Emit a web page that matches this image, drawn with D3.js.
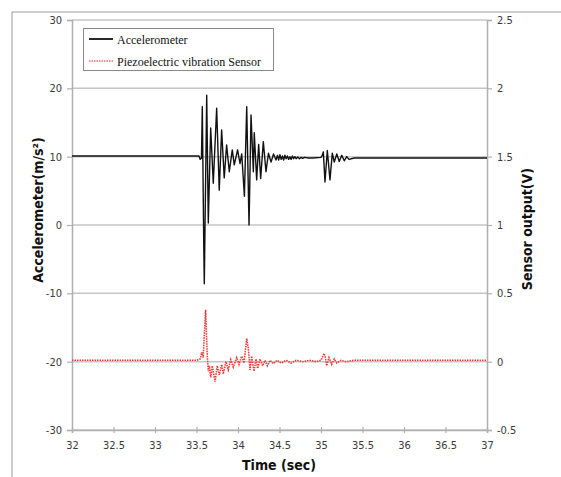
<!DOCTYPE html>
<html>
<head>
<meta charset="utf-8">
<script src="https://cdnjs.cloudflare.com/ajax/libs/d3/7.8.5/d3.min.js"></script>
<style>
  body { margin: 0; background: #fff; }
  svg text { font-family: "Liberation Sans Narrow", "DejaVu Sans Condensed", "DejaVu Sans", sans-serif; font-stretch: condensed; }
</style>
</head>
<body>
<div class="chart-container"></div>
<script>
// x ticks and axis ticks
let xTicks = [32, 32.5, 33, 33.5, 34, 34.5, 35, 35.5, 36, 36.5, 37]
let yLeftTicks = [-30, -20, -10, 0, 10, 20, 30]
let yRightTicks = [-0.5, 0, 0.5, 1, 1.5, 2, 2.5]

// accelerometer (m/s2)
let accelTime = [32.0, 33.50, 33.53, 33.545, 33.56, 33.57, 33.588, 33.594, 33.623, 33.642,
  33.671, 33.702, 33.743, 33.774, 33.803, 33.834, 33.863, 33.895, 33.931, 33.955,
  33.995, 34.024, 34.045, 34.077, 34.105, 34.133, 34.157, 34.185, 34.196, 34.225,
  34.249, 34.273, 34.305, 34.337, 34.367, 34.398, 34.428, 34.458, 34.475, 34.49,
  34.505, 34.52, 34.535, 34.55, 34.565, 34.58, 34.595, 34.61, 34.625, 34.64,
  34.655, 34.67, 34.685, 34.70, 34.72, 34.74, 34.76, 34.78, 34.80, 34.85,
  34.90, 35.00, 35.015, 35.028, 35.048, 35.076, 35.108, 35.136, 35.16, 35.19,
  35.22, 35.25, 35.28, 35.31, 35.337, 35.40, 37.0]
let accelValue = [10.1, 10.1, 10.1, 9.6, 9.8, 17.3, -3.5, -8.6, 19.0, 0.3,
  14.2, 6.1, 17.1, 5.1, 13.9, 6.9, 11.7, 7.8, 11.0, 8.8,
  11.0, 9.0, 10.4, 4.2, 17.3, 0.0, 16.1, 7.8, 13.5, 6.6,
  11.8, 6.8, 12.2, 7.8, 10.5, 9.2, 10.4, 9.5, 10.2, 9.5,
  10.3, 9.6, 10.1, 9.5, 10.2, 9.7, 10.1, 9.6, 10.0, 9.6,
  10.1, 9.7, 10.0, 9.7, 9.95, 9.7, 9.9, 9.75, 9.9, 9.8,
  9.8, 9.9, 10.2, 10.7, 6.3, 10.9, 6.6, 10.5, 9.2, 10.4,
  9.3, 10.2, 9.4, 10.0, 9.6, 9.8, 9.8]

// piezoelectric sensor output (V)
let sensorTime = [32.0, 33.50, 33.545, 33.563, 33.58, 33.61, 33.63, 33.642, 33.655, 33.671,
  33.69, 33.723, 33.75, 33.775, 33.804, 33.823, 33.855, 33.883, 33.912, 33.943,
  33.984, 34.012, 34.044, 34.072, 34.105, 34.124, 34.145, 34.165, 34.193, 34.217,
  34.237, 34.265, 34.297, 34.325, 34.353, 34.386, 34.425, 34.47, 34.52, 34.58,
  34.64, 34.70, 34.78, 34.86, 34.94, 35.00, 35.036, 35.05, 35.068, 35.096,
  35.129, 35.16, 35.19, 35.24, 35.30, 35.40, 37.0]
let sensorValue = [0.01, 0.01, 0.02, 0.07, 0.03, 0.38, 0.04, -0.07, -0.03, -0.115,
  -0.03, -0.146, -0.03, -0.097, -0.02, -0.09, 0.0, -0.06, 0.015, -0.04,
  0.03, -0.02, 0.04, -0.01, 0.17, 0.10, -0.06, 0.04, -0.07, 0.02,
  -0.05, 0.02, -0.03, 0.01, -0.03, 0.01, -0.015, 0.01, -0.01, 0.01,
  -0.01, 0.01, 0.0, 0.01, 0.0, 0.01, 0.06, 0.04, -0.03, 0.03,
  -0.02, 0.02, -0.01, 0.01, 0.0, 0.01, 0.01]

let width = 561, height = 477
let plot = { left: 72, right: 487, top: 20, bottom: 430 }

let svg = d3.select('.chart-container')
  .append('svg')
  .attr('width', width)
  .attr('height', height)

let x = d3.scaleLinear().domain([32, 37]).range([plot.left, plot.right])
let yL = d3.scaleLinear().domain([-30, 30]).range([plot.bottom, plot.top])
let yR = d3.scaleLinear().domain([-0.5, 2.5]).range([plot.bottom, plot.top])

// outer frame (top and left only visible)
svg.append('path')
  .attr('d', `M12,${height} L12,12 L${width},12`)
  .attr('fill', 'none')
  .attr('stroke', '#9a9a9a')
  .attr('stroke-width', 1)

// gridlines
svg.append('g')
  .selectAll('line')
  .data(yLeftTicks)
  .enter()
  .append('line')
  .attr('x1', plot.left)
  .attr('x2', plot.right)
  .attr('y1', d => yL(d))
  .attr('y2', d => yL(d))
  .attr('stroke', '#c6c6c6')
  .attr('stroke-width', 1.5)

// axes, plain hyphen for negatives like the original
let fmt = d => String(d)
let gLeft = svg.append('g')
  .attr('transform', `translate(${plot.left},0)`)
  .call(d3.axisLeft(yL).tickValues(yLeftTicks).tickSize(5).tickPadding(5).tickFormat(fmt))
let gRight = svg.append('g')
  .attr('transform', `translate(${plot.right},0)`)
  .call(d3.axisRight(yR).tickValues(yRightTicks).tickSize(5).tickPadding(5).tickFormat(fmt))
let gBottom = svg.append('g')
  .attr('transform', `translate(0,${plot.bottom})`)
  .call(d3.axisBottom(x).tickValues(xTicks).tickSize(3).tickPadding(8).tickFormat(fmt))

;[gLeft, gRight, gBottom].forEach(g => {
  g.select('.domain').attr('stroke', '#b0b0b0').attr('stroke-width', 1.5)
  g.selectAll('.tick line').attr('stroke', '#b0b0b0').attr('stroke-width', 1.2)
  g.selectAll('.tick text')
    .attr('fill', '#3a3a3a')
    .style('font-size', '11px')
    .style('font-family', '"Liberation Sans Narrow", "DejaVu Sans Condensed", "DejaVu Sans", sans-serif')
    .style('font-stretch', 'condensed')
})
gBottom.selectAll('.tick line').attr('y1', -3)

// sensor series (red dotted)
let sensorLine = d3.line()
  .x((d, i) => x(sensorTime[i]))
  .y(d => yR(d))
svg.append('path')
  .datum(sensorValue)
  .attr('d', sensorLine)
  .attr('fill', 'none')
  .attr('stroke', '#f03a3a')
  .attr('stroke-width', 1.6)
  .attr('stroke-dasharray', '1.5,1')

// accelerometer series
let accelLine = d3.line()
  .x((d, i) => x(accelTime[i]))
  .y(d => yL(d))
svg.append('path')
  .datum(accelValue)
  .attr('d', accelLine)
  .attr('fill', 'none')
  .attr('stroke', '#111')
  .attr('stroke-width', 1.4)
  .attr('stroke-linejoin', 'round')

// axis titles
svg.append('text')
  .attr('transform', 'translate(43,210) rotate(-90)')
  .attr('text-anchor', 'middle')
  .style('font-size', '14px')
  .style('font-weight', 'bold')
  .attr('fill', '#111')
  .text('Accelerometer(m/s²)')

svg.append('text')
  .attr('transform', 'translate(532,229) rotate(-90)')
  .attr('text-anchor', 'middle')
  .style('font-size', '14px')
  .style('font-weight', 'bold')
  .attr('fill', '#111')
  .text('Sensor output(V)')

svg.append('text')
  .attr('x', 279)
  .attr('y', 470)
  .attr('text-anchor', 'middle')
  .style('font-size', '14px')
  .style('font-weight', 'bold')
  .attr('fill', '#111')
  .text('Time (sec)')

// legend
let legend = svg.append('g')
legend.append('rect')
  .attr('x', 83.5)
  .attr('y', 28.5)
  .attr('width', 190)
  .attr('height', 42)
  .attr('fill', '#fff')
  .attr('stroke', '#8a8a8a')
  .attr('stroke-width', 1)

let legendItems = [
  { name: 'Accelerometer', color: '#111', dash: null, width: 1.8 },
  { name: 'Piezoelectric vibration Sensor', color: '#f56a6a', dash: '1.5,1', width: 1.6 }
]
legendItems.forEach((item, i) => {
  let yy = 39 + i * 22
  legend.append('line')
    .attr('x1', 89).attr('x2', 113)
    .attr('y1', yy).attr('y2', yy)
    .attr('stroke', item.color)
    .attr('stroke-width', item.width)
    .attr('stroke-dasharray', item.dash)
  legend.append('text')
    .attr('x', 117)
    .attr('y', yy + 5)
    .style('font-family', '"Liberation Serif", "DejaVu Serif", serif')
    .style('font-stretch', 'normal')
    .style('font-size', '12px')
    .attr('fill', '#111')
    .text(item.name)
})
</script>
</body>
</html>
